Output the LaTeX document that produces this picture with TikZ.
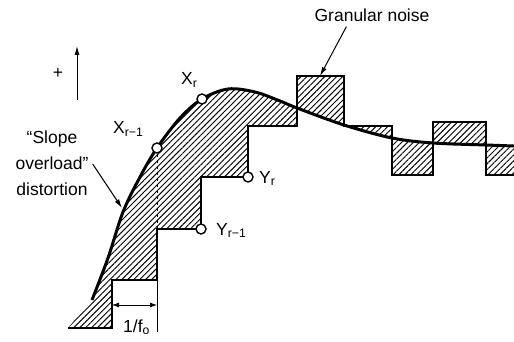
\documentclass[tikz,border=0pt]{standalone}
\usepackage{fontspec}
\setmainfont{Liberation Sans}
\usetikzlibrary{patterns.meta, arrows.meta}

\tikzset{
  hatch/.style={pattern={Lines[angle=45, distance=4.2pt, line width=0.95pt]}},
  sample/.style={circle, draw, line width=1.4pt, fill=white, inner sep=0pt, minimum size=10pt},
  lbl/.style={font=\fontsize{17.5}{26}\selectfont, inner sep=1pt},
  pointer/.style={-{Latex[length=9pt, width=5pt]}, line width=1pt},
}

\begin{document}
\begin{tikzpicture}[x=1pt, y=-1pt]
	\useasboundingbox (0,0) rectangle (514,342);
	
	% --- HATCHED ERROR AREA (between signal and staircase) ---
	\fill[hatch] (68,328) -- plot[smooth, tension=0.55] coordinates {(92,300) (108,258) (123,212) (140,177) (157,148) (180,118) (202,99) (228,89) (255,92) (280,101) (297,108) (344,125) (392,138) (433,143) (486,145) (514,146)}
		-- (514,175) -- (486,175) -- (486,122) -- (433,122) -- (433,175) -- (392,175) -- (392,126)
		-- (344,126) -- (344,76) -- (297,76) -- (297,126) -- (248,126) -- (248,177) -- (201,177)
		-- (201,229) -- (157,229) -- (157,280) -- (112,280) -- (112,328) -- cycle;
	
	% --- STAIRCASE APPROXIMATION ---
	\draw[line width=1.9pt] (68,328) -- (112,328) -- (112,280) -- (157,280) -- (157,229) -- (201,229)
		-- (201,177) -- (248,177) -- (248,126) -- (297,126) -- (297,76) -- (344,76) -- (344,126)
		-- (392,126) -- (392,175) -- (433,175) -- (433,122) -- (486,122) -- (486,175) -- (514,175);
	
	% --- INPUT SIGNAL ---
	\draw[line width=3pt] plot[smooth, tension=0.55] coordinates {(92,300) (108,258) (123,212) (140,177) (157,148) (180,118) (202,99) (228,89) (255,92) (280,101) (297,108) (344,125) (392,138) (433,143) (486,145) (514,146)};
	
	% --- SAMPLES ---
	\coordinate (stepr1) at (157,229);
	\draw[dashed, line width=0.6pt] (157,148) -- (stepr1);
	\node[sample] (xr1) at (157,148) {};
	\node[sample] (xr) at (202,99) {};
	\node[sample] (yr1) at (201,229) {};
	\node[sample] (yr) at (248,177) {};
	\node[lbl, anchor=base west] (xr1lbl) at (112,134) {X\textsubscript{r−1}};
	\node[lbl, anchor=base west] (xrlbl) at (180,85) {X\textsubscript{r}};
	\node[lbl, anchor=base west] (yr1lbl) at (215,235) {Y\textsubscript{r−1}};
	\node[lbl, anchor=base west] (yrlbl) at (258,183) {Y\textsubscript{r}};
	
	% --- POLARITY ARROW ---
	\node[lbl] (plus) at (58,73) {+};
	\coordinate (axbot) at (77,100);
	\coordinate (axtop) at (77,46);
	\draw[pointer] (axbot) -- (axtop);
	
	% --- ANNOTATIONS ---
	\node[lbl, align=center] (slope) at (52,163) {``Slope\\overload''\\distortion};
	\coordinate (slopetip) at (122,208);
	\draw[pointer] ([xshift=3pt, yshift=-1pt]slope.east) -- (slopetip);
	
	\node[lbl] (gran) at (372,15) {Granular noise};
	\coordinate (granbox) at (320,76);
	\draw[pointer] ([xshift=33pt, yshift=-4pt]gran.south west) -- (granbox);
	
	% --- SAMPLE PERIOD ---
	\coordinate (dimL) at (112,305);
	\coordinate (dimR) at (157,305);
	\draw[line width=1pt] (157,280) -- (157,332);
	\draw[{Latex[length=7pt, width=5pt]}-{Latex[length=7pt, width=5pt]}, line width=0.8pt] (dimL) -- (dimR);
	\node[lbl, anchor=base west] (period) at (122,332) {1/f\textsubscript{o}};
	
\end{tikzpicture}
\end{document}
